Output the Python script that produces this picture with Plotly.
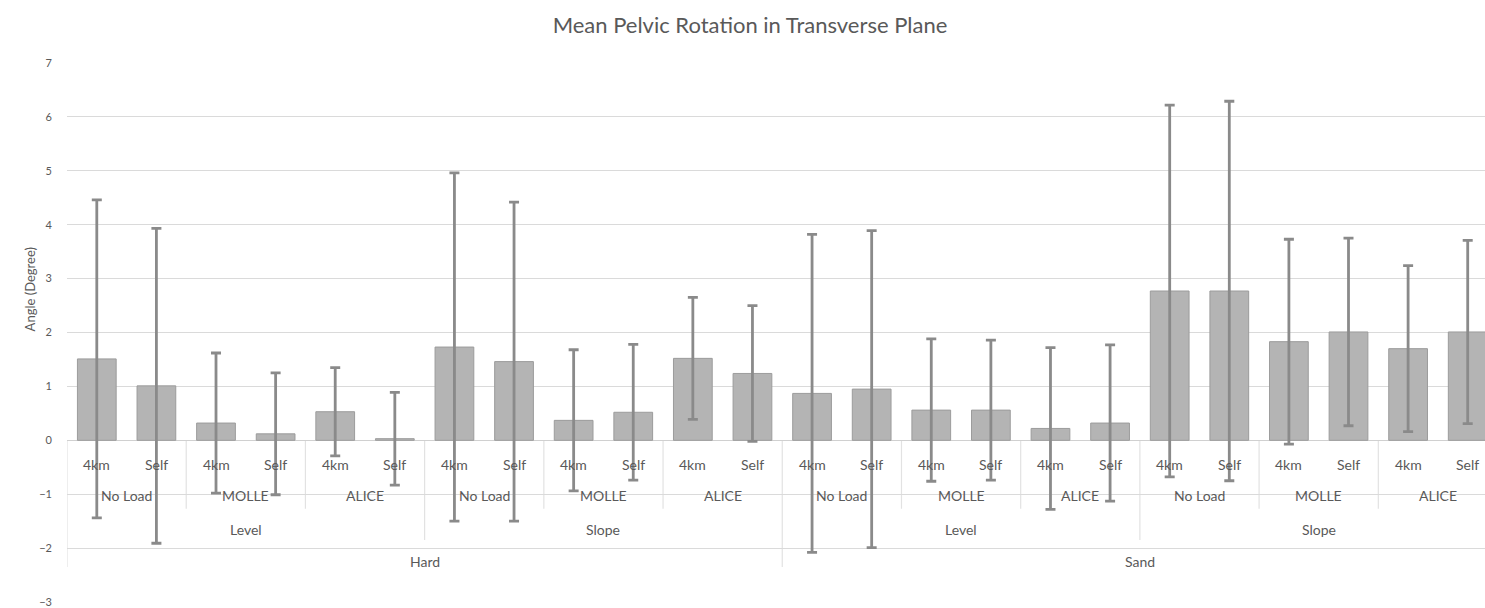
import plotly.graph_objects as go

# Factor levels, outermost first
surfaces = ["Hard", "Sand"]
grades = ["Level", "Slope"]
loads = ["No Load", "MOLLE", "ALICE"]
paces = ["4km", "Self"]

# Mean pelvic rotation (degrees) and standard deviations, one per condition
means = [1.51, 1.01, 0.32, 0.12, 0.53, 0.03,
         1.73, 1.46, 0.37, 0.52, 1.52, 1.24,
         0.87, 0.95, 0.56, 0.56, 0.22, 0.32,
         2.77, 2.77, 1.83, 2.01, 1.70, 2.01]
sds = [2.95, 2.92, 1.30, 1.13, 0.82, 0.86,
       3.23, 2.96, 1.31, 1.26, 1.13, 1.26,
       2.95, 2.94, 1.32, 1.30, 1.50, 1.45,
       3.45, 3.52, 1.90, 1.74, 1.54, 1.70]

y_ticks = [-3, -2, -1, 0, 1, 2, 3, 4, 5, 6, 7]

n = len(means)
xs = list(range(n))
TEXT = "#595959"
FONT = "Lato, 'Open Sans', sans-serif"
LABEL_SIZE = 14

fig = go.Figure()
fig.add_trace(go.Bar(
    x=xs, y=means,
    marker=dict(color="#b4b4b4", line=dict(color="#9c9c9c", width=1)),
    error_y=dict(type="data", array=sds, visible=True,
                 color="#8a8a8a", thickness=2.8, width=5),
    width=0.65,
))

annotations = []
shapes = []

n_pace = len(paces)
n_load = len(loads) * n_pace
n_grade = len(grades) * n_load

# lowest level: pace under each bar
for i in xs:
    annotations.append(dict(x=i, y=-0.45, xref="x", yref="y", text=paces[i % n_pace],
                            showarrow=False, font=dict(size=LABEL_SIZE, color=TEXT, family=FONT)))

# load groups
for g in range(n // n_pace):
    c = g * n_pace + (n_pace - 1) / 2
    annotations.append(dict(x=c, y=-1.03, xref="x", yref="y", text=loads[g % len(loads)],
                            showarrow=False, font=dict(size=LABEL_SIZE, color=TEXT, family=FONT)))

# grade groups
for g in range(n // n_load):
    c = g * n_load + (n_load - 1) / 2
    annotations.append(dict(x=c, y=-1.65, xref="x", yref="y", text=grades[g % len(grades)],
                            showarrow=False, font=dict(size=LABEL_SIZE, color=TEXT, family=FONT)))

# surface groups
for g in range(n // n_grade):
    c = g * n_grade + (n_grade - 1) / 2
    annotations.append(dict(x=c, y=-2.24, xref="x", yref="y", text=surfaces[g],
                            showarrow=False, font=dict(size=LABEL_SIZE, color=TEXT, family=FONT)))

# divider lines between category groups
for b in range(0, n + 1, n_pace):
    if b % n_grade == 0:
        depth = -2.35
    elif b % n_load == 0:
        depth = -1.85
    else:
        depth = -1.27
    shapes.append(dict(type="line", xref="x", yref="y", x0=b - 0.5, x1=b - 0.5,
                       y0=0, y1=depth, line=dict(color="#e2e2e2", width=1.2), layer="below"))

# axis title
annotations.append(dict(x=-47 / 1418, y=2.8, xref="paper", yref="y", text="Angle (Degree)",
                        textangle=-90, showarrow=False,
                        font=dict(size=13, color=TEXT, family=FONT)))

fig.update_layout(
    width=1485, height=608,
    margin=dict(l=67, r=0, t=63, b=6),
    paper_bgcolor="white", plot_bgcolor="white",
    showlegend=False,
    bargap=0.35,
    title=dict(text="Mean Pelvic Rotation in Transverse Plane", x=750 / 1485, xref="container",
               y=1 - 25 / 608, yref="container", yanchor="middle", xanchor="center",
               font=dict(size=22, color=TEXT, family=FONT)),
    xaxis=dict(range=[-0.5, 23.29], showticklabels=False, showgrid=False,
               zeroline=False, showline=False, ticks=""),
    yaxis=dict(range=[-3, 7], tickvals=y_ticks, showgrid=True, gridcolor="#dadada",
               gridwidth=1, zeroline=True, zerolinecolor="#d0d0d0", zerolinewidth=1,
               showline=False, ticks="", ticklabelstandoff=14,
               tickfont=dict(size=11, color=TEXT, family=FONT)),
    annotations=annotations,
    shapes=shapes,
)

fig.write_html("out.html")
